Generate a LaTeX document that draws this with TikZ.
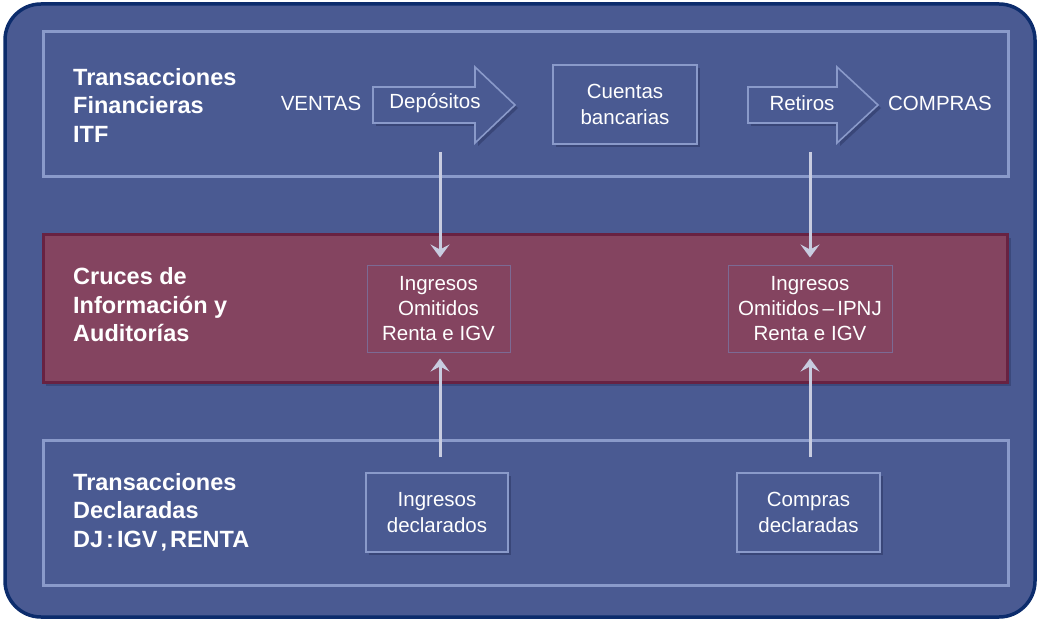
\documentclass[tikz,border=0pt]{standalone}
\usepackage{fontspec}
\setmainfont{Liberation Sans}
\usetikzlibrary{arrows.meta}
\definecolor{bgblue}{RGB}{74,90,146}
\definecolor{navy}{RGB}{12,44,108}
\definecolor{panelline}{RGB}{138,154,202}
\definecolor{redfill}{RGB}{132,68,96}
\definecolor{redline}{RGB}{104,34,66}
\definecolor{connc}{RGB}{200,204,224}
\definecolor{shadowc}{RGB}{50,62,110}
\tikzset{
  panel/.style={draw=panelline,line width=3pt,fill=bgblue},
  redpanel/.style={draw=redline,line width=3pt,fill=redfill},
  boxnode/.style={draw=panelline,line width=1.6pt,fill=bgblue,minimum width=#1,minimum height=79pt,inner sep=0pt,align=center,text=white,font=\fontsize{20.5}{26}\selectfont},
  boxnode/.default=143pt,
  redbox/.style={draw=redline!40!panelline,line width=1pt,fill=redfill,minimum height=86pt,inner sep=0pt,align=center,text=white,font=\fontsize{20.5}{25}\selectfont},
  title/.style={anchor=west,align=left,text=white,inner sep=0pt,font=\bfseries\fontsize{23.5}{28.5}\selectfont},
  plain/.style={text=white,inner sep=0pt,font=\fontsize{20.5}{25}\selectfont},
  blockarrow/.style={draw=panelline,line width=1.6pt,fill=bgblue,line join=miter},
  conn/.style={draw=connc,line width=3pt,-{Stealth[length=13pt,width=19pt,inset=5pt]}},
}
\begin{document}
\begin{tikzpicture}[x=1pt,y=-1pt]
\useasboundingbox (0,0) rectangle (1038,620);
% outer frame
\draw[navy,line width=3.5pt,fill=bgblue,rounded corners=36pt] (5,4) rectangle (1035,617);
% panels
\draw[panel] (43,32) rectangle (1008,177);
\fill[shadowc,opacity=0.6] (46,238) rectangle (1011,386);
\draw[redpanel] (43,235) rectangle (1007,382);
\draw[panel] (43,440) rectangle (1008,585);
% titles
\node[title] (t1) at (73,105) {Transacciones\\Financieras\\ITF};
\node[title] (t2) at (73,305) {Cruces de\\Información y\\Auditorías};
\node[title] (t3) at (73,512) {Transacciones\\Declaradas\\DJ\hspace{3pt}:\hspace{3pt}IGV\hspace{3pt},\hspace{3pt}RENTA};
% top row
\node[plain] (ventas) at (321,103) {VENTAS};
\fill[shadowc,opacity=0.7] (376,90) -- (478,90) -- (478,70) -- (518,108) -- (478,146) -- (478,126) -- (376,126) -- cycle;
\draw[blockarrow] (373,87) -- (475,87) -- (475,67) -- (515,105) -- (475,143) -- (475,123) -- (373,123) -- cycle;
\node[plain] (dep) at (435,103) {Depósitos};
\fill[shadowc,opacity=0.7] (556,68) rectangle (700,147);
\node[boxnode=144pt] (cb) at (625,104.5) {Cuentas\\bancarias};
\fill[shadowc,opacity=0.7] (751,90) -- (840,90) -- (840,70) -- (881,108) -- (840,146) -- (840,126) -- (751,126) -- cycle;
\draw[blockarrow] (748,87) -- (837,87) -- (837,67) -- (878,105) -- (837,143) -- (837,123) -- (748,123) -- cycle;
\node[plain] (ret) at (802,103) {Retiros};
\node[plain] (compras) at (940,103) {COMPRAS};
% middle boxes
\node[redbox,minimum width=143pt] (io1) at (438.5,309) {Ingresos\\Omitidos\\Renta e IGV};
\node[redbox,minimum width=164pt] (io2) at (810,309) {Ingresos\\Omitidos\,–\,IPNJ\\Renta e IGV};
% bottom boxes
\fill[shadowc,opacity=0.7] (369,476) rectangle (511,555);
\node[boxnode=142pt] (id) at (437,512.5) {Ingresos\\declarados};
\fill[shadowc,opacity=0.7] (740,476) rectangle (883,555);
\node[boxnode=143pt] (cd) at (808.5,512.5) {Compras\\declaradas};
% connectors
\coordinate (d1) at (440,152);
\coordinate (r1) at (810,152);
\draw[conn,shorten >=8pt] (d1) -- (d1 |- io1.north);
\draw[conn,shorten >=8pt] (r1) -- (io2.north);
\draw[conn,shorten <=15pt,shorten >=6pt] (id.north -| d1) -- (io1.south -| d1);
\draw[conn,shorten <=15pt,shorten >=6pt] (cd.north -| r1) -- (io2.south);
\end{tikzpicture}
\end{document}
